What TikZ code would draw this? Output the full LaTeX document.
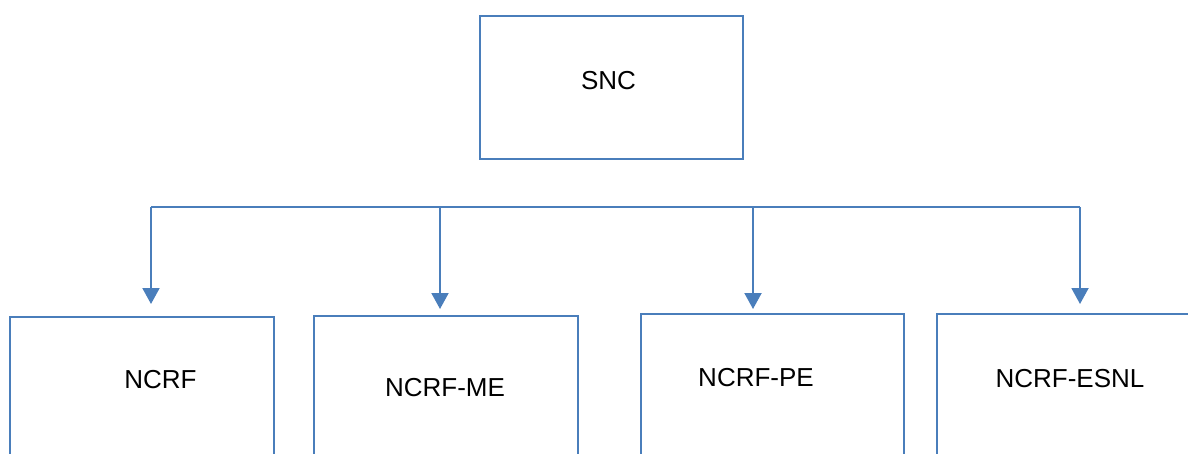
\documentclass[tikz,border=0pt]{standalone}
\usepackage{fontspec}
\setmainfont{Liberation Sans}
\usetikzlibrary{arrows.meta}
\definecolor{boxblue}{HTML}{4A7EBB}
\begin{document}
\begin{tikzpicture}[x=1pt,y=-1pt,
  box/.style={draw=boxblue,line width=2pt,rectangle,inner sep=0pt,anchor=north west},
  lbl/.style={font=\fontsize{26}{30}\selectfont,inner sep=0pt},
  bus/.style={draw=boxblue,line width=2pt},
  arr/.style={draw=boxblue,line width=2pt,-{Triangle[width=17pt,length=16pt]}}]
\useasboundingbox (0,0) rectangle (1188,453);
\clip (0,0) rectangle (1188,453);
% boxes
\node[box,minimum width=263pt,minimum height=143pt] (snc) at (479,15) {};
\node[box,minimum width=264pt,minimum height=200pt] (b1) at (9,316) {};
\node[box,minimum width=264pt,minimum height=200pt] (b2) at (313,315) {};
\node[box,minimum width=263pt,minimum height=200pt] (b3) at (640,313) {};
\node[box,minimum width=300pt,minimum height=200pt] (b4) at (936,313) {};
% labels
\node[lbl] (tsnc) at (608.5,81) {SNC};
\node[lbl] (t1) at (160.5,380) {NCRF};
\node[lbl] (t2) at (445,388) {NCRF-ME};
\node[lbl] (t3) at (756,378) {NCRF-PE};
\node[lbl] (t4) at (1070,379) {NCRF-ESNL};
% bus
\coordinate (c1) at (151,207);
\coordinate (c2) at (440,207);
\coordinate (c3) at (753,207);
\coordinate (c4) at (1080,207);
\coordinate (e1) at (151,304);
\coordinate (e2) at (440,309);
\coordinate (e3) at (753,309);
\coordinate (e4) at (1080,304);
\draw[bus] (c1) -- (c4);
\draw[arr] (c1) -- (e1);
\draw[arr] (c2) -- (e2);
\draw[arr] (c3) -- (e3);
\draw[arr] (c4) -- (e4);
\end{tikzpicture}
\end{document}
